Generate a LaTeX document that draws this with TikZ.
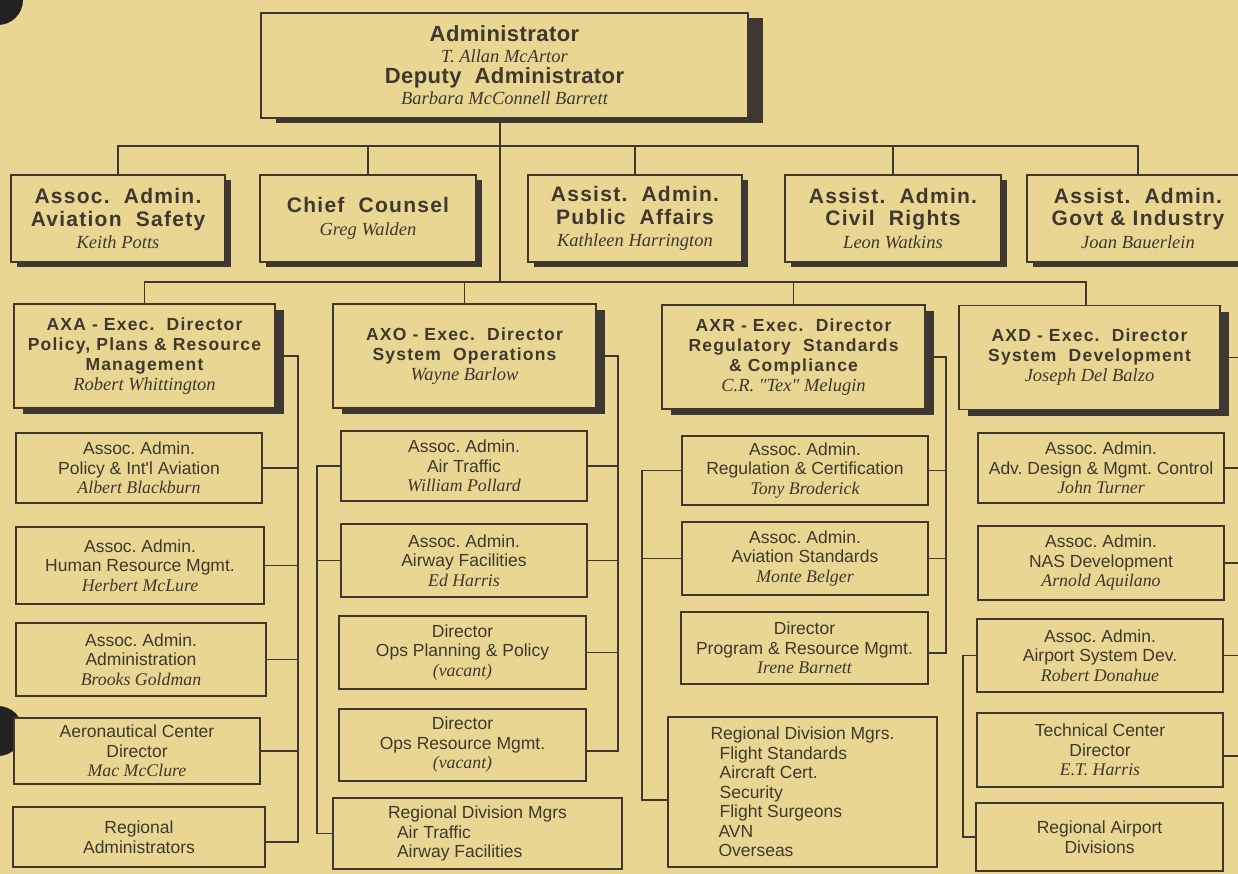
\documentclass[tikz,border=0pt]{standalone}
\usepackage{fontspec}
\setmainfont{Liberation Serif}
\setsansfont{Liberation Sans}
\usetikzlibrary{shadows}
\frenchspacing
\definecolor{bg}{RGB}{233,214,146}
\definecolor{ink}{RGB}{64,55,47}
\definecolor{shade}{RGB}{62,55,50}
\definecolor{punch}{RGB}{35,32,34}
\newcommand\hdTop{\sffamily\bfseries\fontsize{22}{21}\selectfont\addfontfeature{LetterSpace=2}}
\newcommand\hdRow{\sffamily\bfseries\fontsize{21}{22.5}\selectfont\addfontfeature{LetterSpace=6}}
\newcommand\hdExec{\sffamily\bfseries\fontsize{17.5}{20}\selectfont\addfontfeature{LetterSpace=7}}
\newcommand\subfont{\sffamily\fontsize{17.5}{19.5}\selectfont}
\newcommand\nmT[1]{{\rmfamily\mdseries\itshape\fontsize{18.5}{21}\selectfont #1}}
\newcommand\nmE[1]{{\rmfamily\mdseries\itshape\fontsize{18.5}{20}\selectfont #1}}
\newcommand\nmS[1]{{\rmfamily\mdseries\itshape\fontsize{17.8}{19.5}\selectfont #1}}
\begin{document}
\begin{tikzpicture}[x=1pt,y=-1pt,
  box/.style={draw=ink, fill=bg, line width=1.9pt, text=ink, inner sep=0pt, align=center},
  topbox/.style={box, general shadow={fill=shade, shadow xshift=15pt, shadow yshift=-5pt}, font=\hdTop},
  rowbox/.style={box, general shadow={fill=shade, shadow xshift=6pt, shadow yshift=-5pt}, font=\hdRow, minimum height=87pt},
  execbox/.style={box, general shadow={fill=shade, shadow xshift=9pt, shadow yshift=-6pt}, font=\hdExec, minimum height=104pt},
  subbox/.style={box, font=\subfont},
  link/.style={draw=ink, line width=1.9pt},
  holepunch/.style={fill=punch}
]
\useasboundingbox (0,0) rectangle (1238,874);
\fill[bg] (0,0) rectangle (1238,874);
\fill[holepunch] (-2,0) circle[radius=25pt];
\fill[holepunch] (-2,731) circle[radius=25pt];

% top
\node[topbox, minimum width=487pt, minimum height=105pt] (adm) at (504.5,65.5)
  {Administrator\\ \nmT{T. Allan McArtor}\\ Deputy\ \ Administrator\\ \nmT{Barbara McConnell Barrett}};

% row 2
\node[rowbox, minimum width=214pt] (avs) at (118,218.5) {Assoc.\ \ Admin.\\ Aviation\ \ Safety\\ \nmT{Keith Potts}};
\node[rowbox, minimum width=216pt] (cc) at (368,218.5) {Chief\ \ Counsel\\ \nmT{Greg Walden}};
\node[rowbox, minimum width=214pt] (pa) at (635,218.5) {Assist.\ \ Admin.\\ Public\ \ Affairs\\ \nmT{Kathleen Harrington}};
\node[rowbox, minimum width=216pt] (cr) at (893,218.5) {Assist.\ \ Admin.\\ Civil\ \ Rights\\ \nmT{Leon Watkins}};
\node[rowbox, minimum width=222pt] (gi) at (1138,218.5) {Assist.\ \ Admin.\\ Govt \& Industry\\ \nmT{Joan Bauerlein}};

% exec row
\node[execbox, minimum width=261pt] (axa) at (144.5,356) {AXA\ -\ Exec.\ \ Director\\ Policy, Plans \& Resource\\ Management\\ \nmE{Robert Whittington}};
\node[execbox, minimum width=263pt] (axo) at (464.5,356) {AXO\ -\ Exec.\ \ Director\\ System\ \ Operations\\ \nmE{Wayne Barlow}};
\node[execbox, minimum width=263pt] (axr) at (793.5,357) {AXR\ -\ Exec.\ \ Director\\ Regulatory\ \ Standards\\ \& Compliance\\ \nmE{C.R. {\addfontfeature{Ligatures=TeXOff}"Tex"} Melugin}};
\node[execbox, minimum width=261pt] (axd) at (1089.5,357.5) {AXD\ -\ Exec.\ \ Director\\ System\ \ Development\\ \nmE{Joseph Del Balzo}};

% AXA column
\node[subbox, minimum width=246pt, minimum height=70pt] (a1) at (139,468) {Assoc. Admin.\\ Policy \& Int{\addfontfeature{Ligatures=TeXOff}'}l Aviation\\ \nmS{Albert Blackburn}};
\node[subbox, minimum width=248pt, minimum height=77pt] (a2) at (140,565.5) {Assoc. Admin.\\ Human Resource Mgmt.\\ \nmS{Herbert McLure}};
\node[subbox, minimum width=250pt, minimum height=73pt] (a3) at (141,659.5) {Assoc. Admin.\\ Administration\\ \nmS{Brooks Goldman}};
\node[subbox, minimum width=246pt, minimum height=66pt] (a4) at (137,751) {Aeronautical Center\\ Director\\ \nmS{Mac McClure}};
\node[subbox, minimum width=252pt, minimum height=60pt] (a5) at (139,837) {Regional\\ Administrators};

% AXO column
\node[subbox, minimum width=246pt, minimum height=70pt] (o1) at (464,466) {Assoc. Admin.\\ Air Traffic\\ \nmS{William Pollard}};
\node[subbox, minimum width=246pt, minimum height=73pt] (o2) at (464,560.5) {Assoc. Admin.\\ Airway Facilities\\ \nmS{Ed Harris}};
\node[subbox, minimum width=247pt, minimum height=73pt] (o3) at (462.5,652.5) {Director\\ Ops Planning \& Policy\\ \nmS{(vacant)}};
\node[subbox, minimum width=247pt, minimum height=72pt] (o4) at (462.5,745) {Director\\ Ops Resource Mgmt.\\ \nmS{(vacant)}};
\node[subbox, align=left, minimum width=289pt, minimum height=71pt] (o5) at (477.5,833.5) {Regional Division Mgrs\\ \hspace*{9pt}Air Traffic\\ \hspace*{9pt}Airway Facilities};

% AXR column
\node[subbox, minimum width=246pt, minimum height=69pt] (r1) at (805,470.5) {Assoc. Admin.\\ Regulation \& Certification\\ \nmS{Tony Broderick}};
\node[subbox, minimum width=246pt, minimum height=73pt] (r2) at (805,558.5) {Assoc. Admin.\\ Aviation Standards\\ \nmS{Monte Belger}};
\node[subbox, minimum width=247pt, minimum height=72pt] (r3) at (804.5,648) {Director\\ Program \& Resource Mgmt.\\ \nmS{Irene Barnett}};
\node[subbox, align=left, minimum width=269pt, minimum height=150pt] (r4) at (802.5,792) {Regional Division Mgrs.\\ \hspace*{9pt}Flight Standards\\ \hspace*{9pt}Aircraft Cert.\\ \hspace*{9pt}Security\\ \hspace*{9pt}Flight Surgeons\\ \hspace*{8pt}AVN\\ \hspace*{8pt}Overseas};

% AXD column
\node[subbox, minimum width=246pt, minimum height=70pt] (d1) at (1101,468) {Assoc. Admin.\\ Adv. Design \& Mgmt. Control\\ \nmS{John Turner}};
\node[subbox, minimum width=246pt, minimum height=74pt] (d2) at (1101,563) {Assoc. Admin.\\ NAS Development\\ \nmS{Arnold Aquilano}};
\node[subbox, minimum width=246pt, minimum height=73pt] (d3) at (1100,655.5) {Assoc. Admin.\\ Airport System Dev.\\ \nmS{Robert Donahue}};
\node[subbox, minimum width=246pt, minimum height=74pt] (d4) at (1100,750) {Technical Center\\ Director\\ \nmS{E.T. Harris}};
\node[subbox, minimum width=247pt, minimum height=68pt] (d5) at (1099.5,837) {Regional Airport\\ Divisions};

% connectors
\coordinate (j1) at (500,146);
\coordinate (j2) at (500,282);
\draw[link] (adm.south -| j1) -- (j2);
\draw[link] (avs.north) |- (gi.north |- j1) -- (gi.north);
\foreach \n in {cc,pa,cr} \draw[link] (\n.north) -- (\n.north |- j1);
\draw[link] (axa.north) |- ([xshift=-3.5pt]axd.north |- j2) -- ([xshift=-3.5pt]axd.north);
\foreach \n in {axo,axr} \draw[link] (\n.north) -- (\n.north |- j2);

\coordinate (axaB) at (298,0);
\draw[link] (axa.east) -| ([yshift=-5pt]axaB |- a5.east) -- ([yshift=-5pt]a5.east);
\foreach \n in {a1,a2,a3,a4} \draw[link] (\n.east) -- (\n.east -| axaB);

\coordinate (axoR) at (618,0);
\coordinate (axoL) at (317,0);
\draw[link] (axo.east) -| ([yshift=-6pt]axoR |- o4.east) -- ([yshift=-6pt]o4.east);
\foreach \n in {o1,o2,o3} \draw[link] (\n.east) -- (\n.east -| axoR);
\draw[link] (o1.west) -| (axoL |- o5.west) -- (o5.west);
\draw[link] (o2.west) -- (o2.west -| axoL);

\coordinate (axrR) at (946,0);
\coordinate (axrL) at (642,0);
\draw[link] (axr.east) -| ([yshift=-5pt]axrR |- r3.east) -- ([yshift=-5pt]r3.east);
\foreach \n in {r1,r2} \draw[link] (\n.east) -- (\n.east -| axrR);
\draw[link] (r1.west) -| ([yshift=-8pt]axrL |- r4.west) -- ([yshift=-8pt]r4.west);
\draw[link] (r2.west) -- (r2.west -| axrL);

\coordinate (axdR) at (1252,0);
\coordinate (axdL) at (963,0);
\draw[link] (axd.east) -| ([yshift=-6pt]axdR |- d4.east) -- ([yshift=-6pt]d4.east);
\foreach \n in {d1,d2,d3} \draw[link] (\n.east) -- (\n.east -| axdR);
\draw[link] (d3.west) -| (axdL |- d5.west) -- (d5.west);
\end{tikzpicture}
\end{document}
